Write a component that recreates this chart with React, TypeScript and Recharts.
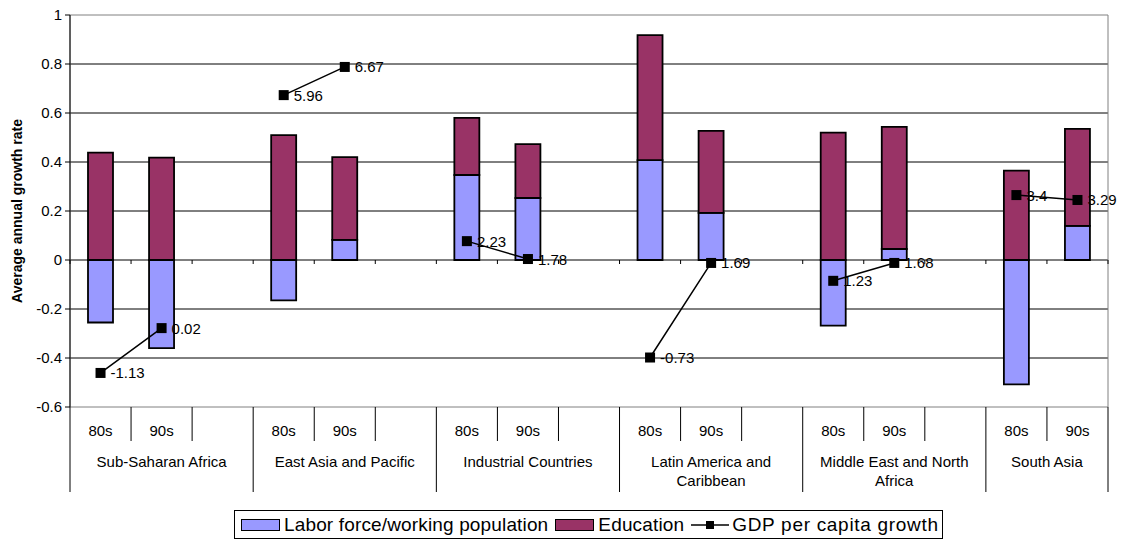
import {
  Bar,
  CartesianGrid,
  ComposedChart,
  LabelList,
  Line,
  ReferenceArea,
  XAxis,
  YAxis,
} from "recharts";

const regions = [
  "Sub-Saharan Africa",
  "East Asia and Pacific",
  "Industrial Countries",
  "Latin America and\nCaribbean",
  "Middle East and North\nAfrica",
  "South Asia",
];
const periods = ["80s", "90s"];

// two values per region: 80s, 90s
const labor = [-0.255, -0.36, -0.165, 0.082, 0.347, 0.253, 0.408, 0.192, -0.268, 0.045, -0.508, 0.139];
const education = [0.438, 0.418, 0.51, 0.338, 0.233, 0.22, 0.51, 0.335, 0.52, 0.498, 0.365, 0.396];
const gdp = [-0.461, -0.278, 0.673, 0.788, 0.077, 0.004, -0.398, -0.012, -0.085, -0.012, 0.265, 0.245];
const gdpLabels = ["-1.13", "0.02", "5.96", "6.67", "2.23", "1.78", "-0.73", "1.69", "1.23", "1.68", "3.4", "3.29"];

const yTicks = [-0.6, -0.4, -0.2, 0, 0.2, 0.4, 0.6, 0.8, 1];
const gridValues = [-0.4, -0.2, 0, 0.2, 0.4, 0.6, 0.8];

const C = {
  labor: "#9999FF",
  edu: "#993366",
  ink: "#000000",
  frame: "#808080",
};

const W = 1123;
const H = 539;
const M = { top: 15, right: 15, left: 0, bottom: 0 };
const Y_W = 70;
const X_H = 132;
const PLOT_W = W - M.left - M.right - Y_W;
const PLOT_H = H - M.top - M.bottom - X_H;
const PLOT_BOTTOM = M.top + PLOT_H;
const Y_MIN = -0.6;
const Y_MAX = 1;
const ZERO_Y = M.top + ((Y_MAX - 0) / (Y_MAX - Y_MIN)) * PLOT_H;
const FONT = "'Liberation Sans', Arial, sans-serif";

// one slot per period, plus a blank spacer after each region but the last
type Row = {
  key: string;
  period: string;
  regionIdx: number;
  regionStart: boolean;
  span: number;
  labor?: number;
  education?: number;
  gdp?: number | null;
  gdpLabel?: string;
};

const rows: Row[] = [];
regions.forEach((_, r) => {
  const last = r === regions.length - 1;
  const span = last ? periods.length : periods.length + 1;
  periods.forEach((p, j) => {
    const k = r * periods.length + j;
    rows.push({
      key: `${r}-${p}`,
      period: p,
      regionIdx: r,
      regionStart: j === 0,
      span,
      labor: labor[k],
      education: education[k],
      gdp: gdp[k],
      gdpLabel: gdpLabels[k],
    });
  });
  if (!last) {
    rows.push({ key: `${r}-gap`, period: "", regionIdx: r, regionStart: false, span, gdp: null });
  }
});

function SlotTick(props: any) {
  const { x, payload } = props;
  const i = payload.index;
  const row = rows[i];
  const bw = PLOT_W / rows.length;
  const left = x - bw / 2;
  const isLast = i === rows.length - 1;
  const lines = regions[row.regionIdx].split("\n");
  return (
    <g>
      <text x={x} y={PLOT_BOTTOM + 29} textAnchor="middle" fontSize={15} fill={C.ink} fontFamily={FONT}>
        {row.period}
      </text>
      <line x1={left} y1={PLOT_BOTTOM} x2={left} y2={row.regionStart ? PLOT_BOTTOM + 85 : PLOT_BOTTOM + 34} stroke={C.ink} />
      <line x1={left} y1={ZERO_Y} x2={left} y2={ZERO_Y + 4} stroke={C.ink} />
      {isLast && (
        <>
          <line x1={x + bw / 2} y1={PLOT_BOTTOM} x2={x + bw / 2} y2={PLOT_BOTTOM + 85} stroke={C.ink} />
          <line x1={x + bw / 2} y1={ZERO_Y} x2={x + bw / 2} y2={ZERO_Y + 4} stroke={C.ink} />
        </>
      )}
      {row.regionStart &&
        lines.map((t, li) => (
          <text
            key={li}
            x={left + (row.span * bw) / 2}
            y={PLOT_BOTTOM + 60 + li * 19}
            textAnchor="middle"
            fontSize={15}
            fill={C.ink}
            fontFamily={FONT}
          >
            {t}
          </text>
        ))}
    </g>
  );
}

function SquareDot(p: any) {
  if (p.cx == null || p.cy == null || p.value == null) return <g key={p.index} />;
  return <rect key={p.index} x={p.cx - 5} y={p.cy - 5} width={10} height={10} fill={C.ink} />;
}

function GdpLabel(p: any) {
  if (p.value == null || p.x == null) return null;
  return (
    <text x={p.x + 10} y={p.y} dominantBaseline="central" fontSize={15} fill={C.ink} fontFamily={FONT}>
      {p.value}
    </text>
  );
}

function YTitle() {
  const cx = 17;
  const cy = M.top + PLOT_H / 2;
  return (
    <text
      x={cx}
      y={cy}
      transform={`rotate(-90, ${cx}, ${cy})`}
      textAnchor="middle"
      dominantBaseline="central"
      fontSize={14}
      fontWeight="bold"
      fill={C.ink}
      fontFamily={FONT}
    >
      Average annual growth rate
    </text>
  );
}

const legendItems = [
  { name: "Labor force/working population", kind: "box", color: C.labor },
  { name: "Education", kind: "box", color: C.edu },
  { name: "GDP per capita growth", kind: "line", color: C.ink },
];

function LegendBox() {
  return (
    <div
      style={{
        position: "absolute",
        left: 234,
        top: 510,
        width: 709,
        height: 29,
        border: "1px solid #000",
        boxSizing: "border-box",
        display: "flex",
        alignItems: "center",
        paddingLeft: 6,
        fontFamily: FONT,
        fontSize: 19,
        whiteSpace: "nowrap",
        background: "#fff",
      }}
    >
      {legendItems.map((it) => (
        <span key={it.name} style={{ display: "flex", alignItems: "center", marginRight: 7 }}>
          {it.kind === "box" ? (
            <span
              style={{
                display: "inline-block",
                width: 39,
                height: 12,
                background: it.color,
                border: "1.5px solid #000",
                boxSizing: "border-box",
                marginRight: 4,
              }}
            />
          ) : (
            <svg width={38} height={12} style={{ marginRight: 3 }}>
              <line x1={0} y1={6} x2={38} y2={6} stroke="#000" strokeWidth={1.5} />
              <rect x={15} y={2} width={8} height={8} fill="#000" />
            </svg>
          )}
          <span style={{ letterSpacing: it.kind === "line" ? 0.7 : 0.15 }}>{it.name}</span>
        </span>
      ))}
    </div>
  );
}

export default function App() {
  return (
    <div style={{ position: "relative", width: W, height: H, background: "#fff" }}>
      <style>{`body{margin:0}`}</style>
      <ComposedChart
        width={W}
        height={H}
        data={rows}
        margin={M}
        stackOffset="sign"
        barCategoryGap={0}
        style={{ fontFamily: FONT }}
      >
        <CartesianGrid horizontal vertical={false} stroke={C.ink} horizontalValues={gridValues} />
        <ReferenceArea y1={Y_MIN} y2={Y_MAX} fill="none" stroke={C.frame} strokeWidth={1} ifOverflow="visible" />
        <XAxis
          dataKey="key"
          height={X_H}
          interval={0}
          axisLine={false}
          tickLine={false}
          tick={<SlotTick />}
        />
        <YAxis
          width={Y_W}
          domain={[Y_MIN, Y_MAX]}
          ticks={yTicks}
          interval={0}
          allowDataOverflow
          axisLine={{ stroke: C.ink }}
          tickLine={{ stroke: C.ink }}
          tickSize={5}
          tickMargin={3}
          tick={{ fontSize: 15, fill: C.ink, fontFamily: FONT }}
          tickFormatter={(v: number) => String(v)}
          label={<YTitle />}
        />
        <Bar dataKey="labor" stackId="s" fill={C.labor} stroke={C.ink} strokeWidth={1.8} barSize={25} isAnimationActive={false} />
        <Bar dataKey="education" stackId="s" fill={C.edu} stroke={C.ink} strokeWidth={1.8} barSize={25} isAnimationActive={false} />
        <Line
          dataKey="gdp"
          stroke={C.ink}
          strokeWidth={1.5}
          dot={<SquareDot />}
          activeDot={false}
          connectNulls={false}
          isAnimationActive={false}
        >
          <LabelList dataKey="gdpLabel" content={<GdpLabel />} />
        </Line>
      </ComposedChart>
      <LegendBox />
    </div>
  );
}
